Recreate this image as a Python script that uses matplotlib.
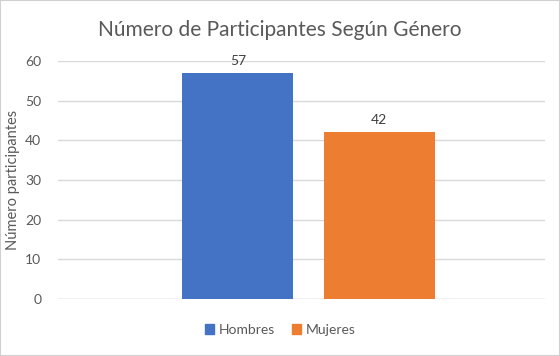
import matplotlib.pyplot as plt
from matplotlib.patches import Rectangle

categorias = ['Hombres', 'Mujeres']
valores = [57, 42]
colores = ['#4472C4', '#ED7D31']

plt.rcParams['font.family'] = ['Lato', 'DejaVu Sans']
gris = '#595959'

fig = plt.figure(figsize=(5.6, 3.56), dpi=100)
ax = fig.add_axes([58/560, 1 - 299/356, 487/560, 238/356])

barras = ax.bar(range(len(valores)), valores, width=0.785, color=colores, zorder=3)
for b, v in zip(barras, valores):
    ax.text(b.get_x() + b.get_width()/2, v + 1.6, str(v), ha='center', va='bottom',
            fontsize=10, color='#404040')

ax.set_xlim(-1.27, 2.17)
ax.set_ylim(0, 60)
ax.set_yticks(range(0, 61, 10))
ax.set_xticks([])
ax.yaxis.grid(True, color='#d9d9d9', linewidth=1, zorder=0)
for s in ax.spines.values():
    s.set_visible(False)
ax.axhline(0, color='#d9d9d9', linewidth=1, zorder=1)
ax.tick_params(axis='y', length=0, pad=12, labelsize=10, labelcolor=gris)
ax.set_ylabel('Número participantes', fontsize=10.5, color=gris)
ax.yaxis.set_label_coords(-0.078, 0.5)

fig.text(0.5, 1 - 30/356, 'Número de Participantes Según Género', ha='center', va='center',
         fontsize=15, color=gris)

handles = [Rectangle((0, 0), 1, 1, color=c) for c in colores]
fig.legend(handles, categorias, loc='center', bbox_to_anchor=(0.5, 1 - 330/356), ncol=2,
           frameon=False, fontsize=10, handlelength=0.7, handleheight=0.7,
           handletextpad=0.3, columnspacing=1.2, labelcolor=gris)

fig.patches.append(Rectangle((0, 0), 1, 1, transform=fig.transFigure, fill=False,
                             edgecolor='#d0d0d0', linewidth=1.5))

fig.savefig('out.png', dpi=100)
